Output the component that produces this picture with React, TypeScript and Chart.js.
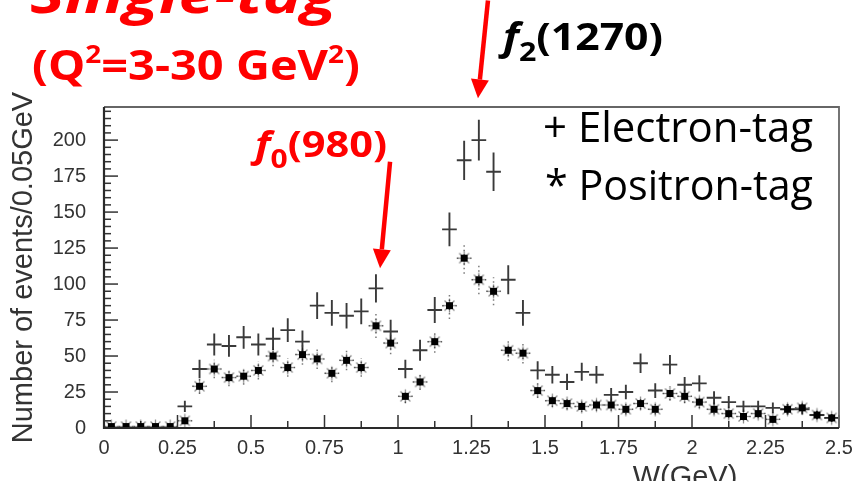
import React, { useEffect, useRef } from "react";
import { Chart, registerables } from "chart.js";

Chart.register(...registerables);

// ---- data ----
const binCenters = [
  0.025, 0.075, 0.125, 0.175, 0.225, 0.275, 0.325, 0.375, 0.425, 0.475,
  0.525, 0.575, 0.625, 0.675, 0.725, 0.775, 0.825, 0.875, 0.925, 0.975,
  1.025, 1.075, 1.125, 1.175, 1.225, 1.275, 1.325, 1.375, 1.425, 1.475,
  1.525, 1.575, 1.625, 1.675, 1.725, 1.775, 1.825, 1.875, 1.925, 1.975,
  2.025, 2.075, 2.125, 2.175, 2.225, 2.275, 2.325, 2.375, 2.425, 2.475,
];
const electronTag = [
  0, 0, 0, 0, 0, 15, 41, 58, 57, 63,
  58, 62, 68, 60, 85, 80, 78, 81, 97, 67,
  41, 54, 82, 138, 186, 200, 178, 103, 80, 40,
  37, 32, 39, 37, 23, 25, 45, 26, 44, 30,
  31, 21, 18, 15, 15, 14, 13, 13, 9, 7,
];
const positronTag = [
  1, 1, 1, 1, 1, 5, 29, 41, 35, 36,
  40, 50, 42, 51, 48, 38, 47, 42, 71, 59,
  22, 32, 60, 85, 118, 103, 95, 54, 52, 26,
  19, 17, 15, 16, 16, 13, 17, 13, 24, 22,
  18, 13, 10, 8, 10, 6, 13, 14, 9, 7,
];
const binHalfWidth = 0.025;
const xMin = 0;
const xMax = 2.5;
const xStep = 0.25;
const yMin = 0;
const yMax = 223;
const yStep = 25;
const yTitle = "Number of events/0.05GeV";
const xTitle = "W(GeV)";
const legendLabels = ["+ Electron-tag", "* Positron-tag"];
// arrows in data coordinates: [fromW, fromN, toW, toN]
const f0Arrow = [0.973, 185, 0.939, 111];
const f2Arrow = [1.306, 297, 1.272, 229];

function makeStar(): HTMLCanvasElement {
  const c = document.createElement("canvas");
  c.width = 17;
  c.height = 17;
  const g = c.getContext("2d")!;
  const cx = 8.5, cy = 8.5;
  g.strokeStyle = "rgba(0,0,0,0.45)";
  g.lineWidth = 1.3;
  for (let k = 0; k < 8; k++) {
    const a = (k * Math.PI) / 4;
    g.beginPath();
    g.moveTo(cx, cy);
    g.lineTo(cx + Math.cos(a) * 7, cy + Math.sin(a) * 7);
    g.stroke();
  }
  g.fillStyle = "#000";
  g.fillRect(cx - 3.5, cy - 3.5, 7, 7);
  return c;
}

type Part = { t: string; font: string; dy?: number };
function drawRich(ctx: CanvasRenderingContext2D, parts: Part[], x: number, y: number, targetW: number, color: string) {
  ctx.save();
  ctx.textAlign = "left";
  ctx.textBaseline = "alphabetic";
  let w = 0;
  const ws: number[] = [];
  for (const p of parts) {
    ctx.font = p.font;
    const m = ctx.measureText(p.t).width;
    ws.push(m);
    w += m;
  }
  const sx = targetW / w;
  ctx.translate(x, y);
  ctx.scale(sx, 1);
  ctx.fillStyle = color;
  let cx = 0;
  parts.forEach((p, i) => {
    ctx.font = p.font;
    ctx.fillText(p.t, cx, p.dy || 0);
    cx += ws[i];
  });
  ctx.restore();
}

function drawArrow(ctx: CanvasRenderingContext2D, x1: number, y1: number, x2: number, y2: number) {
  const ang = Math.atan2(y2 - y1, x2 - x1);
  const hl = 19, hw = 9;
  const bx = x2 - Math.cos(ang) * hl, by = y2 - Math.sin(ang) * hl;
  ctx.save();
  ctx.strokeStyle = "#ff0000";
  ctx.fillStyle = "#ff0000";
  ctx.lineWidth = 4.5;
  ctx.beginPath();
  ctx.moveTo(x1, y1);
  ctx.lineTo(bx, by);
  ctx.stroke();
  ctx.beginPath();
  ctx.moveTo(x2, y2);
  ctx.lineTo(bx + Math.sin(ang) * hw, by - Math.cos(ang) * hw);
  ctx.lineTo(bx - Math.sin(ang) * hw, by + Math.cos(ang) * hw);
  ctx.closePath();
  ctx.fill();
  ctx.restore();
}

const histPlugin = {
  id: "histPlugin",
  beforeDatasetsDraw(chart: any) {
    const ctx: CanvasRenderingContext2D = chart.ctx;
    const xs = chart.scales.x, ys = chart.scales.y;
    const a = chart.chartArea;
    ctx.save();
    // inside ticks
    ctx.strokeStyle = "#333";
    ctx.lineWidth = 1.5;
    for (let v = yMin; v <= yMax; v += 5) {
      const py = ys.getPixelForValue(v);
      const len = v % yStep === 0 ? 14 : 7;
      ctx.beginPath();
      ctx.moveTo(a.left, py);
      ctx.lineTo(a.left + len, py);
      ctx.stroke();
    }
    for (let i = 0; i * xStep / 2 <= xMax + 1e-9; i++) {
      const px = xs.getPixelForValue((i * xStep) / 2);
      const len = i % 2 === 0 ? 13 : 7;
      ctx.beginPath();
      ctx.moveTo(px, a.bottom);
      ctx.lineTo(px, a.bottom - len);
      ctx.stroke();
    }
    // positron dotted error bars
    ctx.strokeStyle = "rgba(90,90,90,0.8)";
    ctx.lineWidth = 1.5;
    ctx.setLineDash([1.5, 3]);
    binCenters.forEach((c, i) => {
      const n = positronTag[i];
      const e = Math.sqrt(n);
      const px = xs.getPixelForValue(c);
      const py = ys.getPixelForValue(n);
      ctx.beginPath();
      ctx.moveTo(px, ys.getPixelForValue(Math.max(0, n - e)));
      ctx.lineTo(px, ys.getPixelForValue(n + e));
      ctx.moveTo(xs.getPixelForValue(c - binHalfWidth), py);
      ctx.lineTo(xs.getPixelForValue(c + binHalfWidth), py);
      ctx.stroke();
    });
    ctx.setLineDash([]);
    // electron crosses (error bars)
    ctx.strokeStyle = "#3a3a3a";
    ctx.lineWidth = 1.9;
    binCenters.forEach((c, i) => {
      const n = electronTag[i];
      const e = Math.sqrt(n);
      const px = xs.getPixelForValue(c);
      const py = ys.getPixelForValue(n);
      ctx.beginPath();
      if (e > 0) {
        ctx.moveTo(px, ys.getPixelForValue(Math.max(0, n - e)));
        ctx.lineTo(px, ys.getPixelForValue(n + e));
      }
      ctx.moveTo(xs.getPixelForValue(c - binHalfWidth), py);
      ctx.lineTo(xs.getPixelForValue(c + binHalfWidth), py);
      ctx.stroke();
    });
    ctx.restore();
  },
  afterDraw(chart: any) {
    const ctx: CanvasRenderingContext2D = chart.ctx;
    const xs = chart.scales.x, ys = chart.scales.y;
    const a = chart.chartArea;
    ctx.save();
    // frame
    ctx.strokeStyle = "#666";
    ctx.lineWidth = 1.8;
    ctx.beginPath();
    ctx.moveTo(a.left, a.top);
    ctx.lineTo(a.right, a.top);
    ctx.lineTo(a.right, a.bottom);
    ctx.stroke();
    ctx.strokeStyle = "#2a2a2a";
    ctx.lineWidth = 2.2;
    ctx.beginPath();
    ctx.moveTo(a.left, a.top);
    ctx.lineTo(a.left, a.bottom);
    ctx.lineTo(a.right, a.bottom);
    ctx.stroke();

    // x title (partly cut off)
    ctx.fillStyle = "#333";
    ctx.font = "29px 'Liberation Sans', Arial, sans-serif";
    ctx.textAlign = "center";
    ctx.textBaseline = "alphabetic";
    ctx.fillText(xTitle, 685, 486);
    ctx.restore();

    // legend text
    drawRich(ctx, [{ t: legendLabels[0], font: "42px 'Open Sans', sans-serif" }], 543, 142, 270, "#000");
    drawRich(ctx, [{ t: legendLabels[1], font: "42px 'Open Sans', sans-serif" }], 545, 200, 268, "#000");

    // red titles
    drawRich(ctx, [{ t: "Single-tag", font: "italic bold 52px 'Open Sans', sans-serif" }], 30, 13, 307, "#ff0000");
    drawRich(
      ctx,
      [
        { t: "(Q", font: "bold 42px 'Open Sans', sans-serif" },
        { t: "2", font: "bold 25px 'Open Sans', sans-serif", dy: -17 },
        { t: "=3-30 GeV", font: "bold 42px 'Open Sans', sans-serif" },
        { t: "2", font: "bold 25px 'Open Sans', sans-serif", dy: -17 },
        { t: ")", font: "bold 42px 'Open Sans', sans-serif" },
      ],
      32, 80, 328, "#ff0000"
    );
    drawRich(
      ctx,
      [
        { t: "f", font: "italic bold 36px 'Open Sans', sans-serif" },
        { t: "0", font: "bold 26px 'Open Sans', sans-serif", dy: 11 },
        { t: "(980)", font: "bold 36px 'Open Sans', sans-serif" },
      ],
      255, 157, 132, "#ff0000"
    );
    drawRich(
      ctx,
      [
        { t: "f", font: "italic bold 38px 'Open Sans', sans-serif" },
        { t: "2", font: "bold 27px 'Open Sans', sans-serif", dy: 11 },
        { t: "(1270)", font: "bold 38px 'Open Sans', sans-serif" },
      ],
      503, 50, 160, "#000"
    );

    drawArrow(ctx, xs.getPixelForValue(f0Arrow[0]), ys.getPixelForValue(f0Arrow[1]), xs.getPixelForValue(f0Arrow[2]), ys.getPixelForValue(f0Arrow[3]));
    drawArrow(ctx, xs.getPixelForValue(f2Arrow[0]), ys.getPixelForValue(f2Arrow[1]), xs.getPixelForValue(f2Arrow[2]), ys.getPixelForValue(f2Arrow[3]));
  },
};

export default function App() {
  const ref = useRef<HTMLCanvasElement>(null);
  useEffect(() => {
    const canvas = ref.current!;
    const star = makeStar();
    const chart = new Chart(canvas, {
      type: "scatter",
      data: {
        datasets: [
          {
            label: "Electron-tag",
            data: binCenters.map((x, i) => ({ x, y: electronTag[i] })),
            pointRadius: 0,
            showLine: false,
          },
          {
            label: "Positron-tag",
            data: binCenters.map((x, i) => ({ x, y: positronTag[i] })),
            pointStyle: star as any,
            pointRadius: 6,
            borderWidth: 0,
            showLine: false,
          },
        ],
      },
      options: {
        responsive: false,
        animation: false,
        events: [],
        devicePixelRatio: 1,
        layout: { padding: { left: 0, top: 107, right: 13, bottom: 0 } },
        plugins: { legend: { display: false }, tooltip: { enabled: false } },
        scales: {
          x: {
            type: "linear",
            min: xMin,
            max: xMax,
            grid: { display: false, drawTicks: false },
            border: { display: false },
            ticks: {
              stepSize: xStep,
              autoSkip: false,
              maxRotation: 0,
              padding: 8,
              color: "#333",
              font: { family: "'Liberation Sans', Arial, sans-serif", size: 20 },
              callback: (v: any) => String(Math.round(Number(v) * 100) / 100),
            },
            afterFit: (s: any) => {
              s.height = 53;
              s.paddingLeft = 0;
              s.paddingRight = 0;
            },
          },
          y: {
            type: "linear",
            min: yMin,
            max: yMax,
            grid: { display: false, drawTicks: false },
            border: { display: false },
            ticks: {
              stepSize: yStep,
              includeBounds: false,
              padding: 18,
              color: "#333",
              font: { family: "'Liberation Sans', Arial, sans-serif", size: 20 },
              callback: (v: any) => (Number(v) % yStep === 0 ? String(v) : ""),
            },
            title: {
              display: true,
              text: yTitle,
              color: "#333",
              font: { family: "'Liberation Sans', Arial, sans-serif", size: 29 },
              padding: { top: 7, bottom: 0 },
            },
            afterFit: (s: any) => {
              s.width = 104;
              s.paddingTop = 0;
              s.paddingBottom = 0;
            },
          },
        },
      },
      plugins: [histPlugin],
    });
    return () => chart.destroy();
  }, []);
  return (
    <div style={{ position: "fixed", left: 0, top: 0, width: 852, height: 481, background: "#fff" }}>
      <canvas ref={ref} width={852} height={481} style={{ display: "block" }} />
    </div>
  );
}
